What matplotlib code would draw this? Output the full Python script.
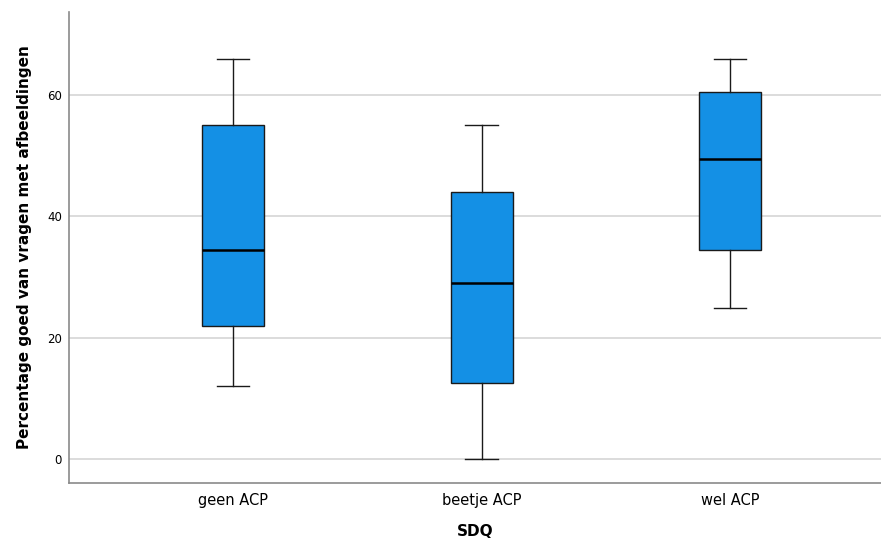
import matplotlib.pyplot as plt

categories = ["geen ACP", "beetje ACP", "wel ACP"]
whislo = [12, 0, 25]
q1 = [22, 12.5, 34.5]
med = [34.5, 29, 49.5]
q3 = [55, 44, 60.5]
whishi = [66, 55, 66]

stats = []
for i, c in enumerate(categories):
    stats.append(dict(label=c, whislo=whislo[i], q1=q1[i], med=med[i],
                      q3=q3[i], whishi=whishi[i], fliers=[]))

fig = plt.figure(figsize=(8.81, 5.45), dpi=100)
ax = fig.add_axes([0.078, 0.114, 0.922, 0.864])

ax.set_axisbelow(True)
ax.yaxis.grid(True, color="#d6d6d6", linewidth=1.2)

ax.bxp(stats, positions=range(len(categories)), widths=0.25, patch_artist=True,
       showfliers=False,
       boxprops=dict(facecolor="#1490e5", edgecolor="#1a1a1a", linewidth=1.0),
       medianprops=dict(color="black", linewidth=1.8),
       whiskerprops=dict(color="#1a1a1a", linewidth=1.0),
       capprops=dict(color="#1a1a1a", linewidth=1.0),
       capwidths=0.13)

ax.set_xlim(-0.663, 2.609)
ax.set_ylim(-3.9, 73.7)
ax.set_yticks([0, 20, 40, 60])
ax.tick_params(axis="both", length=0)
ax.tick_params(axis="y", labelsize=8.5, pad=5)
ax.tick_params(axis="x", labelsize=10.5, pad=7)

for s in ["top", "right"]:
    ax.spines[s].set_visible(False)
for s in ["left", "bottom"]:
    ax.spines[s].set_color("#8a8a8a")
    ax.spines[s].set_linewidth(1.2)

ax.set_ylabel("Percentage goed van vragen met afbeeldingen", fontsize=11,
              fontweight="bold", labelpad=11)
ax.set_xlabel("SDQ", fontsize=11, fontweight="bold", labelpad=12)

fig.savefig("out.png", dpi=100)
